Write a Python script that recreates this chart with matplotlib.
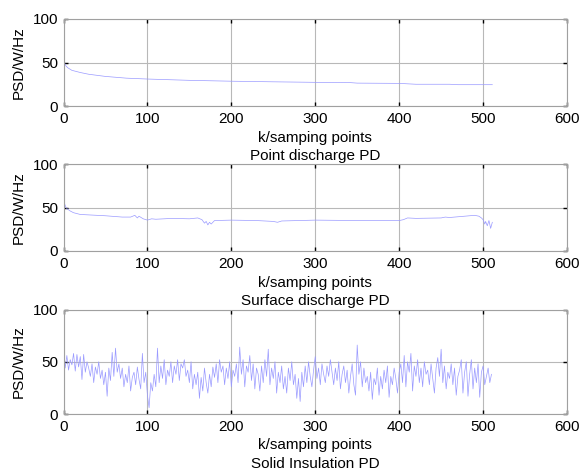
import matplotlib
matplotlib.use("Agg")
import matplotlib.pyplot as plt

plt.rcParams['font.family'] = ['Liberation Sans', 'DejaVu Sans']
plt.rcParams['font.size'] = 11

# Point discharge PD (smooth decay)
x_point = [0, 1, 3, 5, 10, 20, 30, 50, 75, 100, 150, 200, 250, 300, 340, 350,
           400, 410, 420, 460, 470, 511]
y_point = [70, 50, 46, 44, 41, 38.5, 36.5, 34, 32, 31, 29.5, 28.5, 27.8, 27.2,
           27, 26.3, 26, 25.5, 25, 25, 24.5, 24.5]

# Surface discharge PD
x_surface = [0, 1, 3, 5, 8, 12, 20, 30, 50, 70, 80, 85, 88, 90, 95, 100, 105,
             110, 130, 150, 160, 165, 168, 170, 172, 174, 176, 180, 200, 230,
             250, 255, 260, 280, 300, 350, 400, 405, 410, 420, 450, 455, 460,
             490, 495, 498, 500, 502, 503, 505, 507, 509, 511]
y_surface = [65, 55, 50, 48, 46, 44, 42, 41.5, 40.5, 39, 39, 41, 38, 40, 37,
             35.5, 37, 36.5, 37.5, 37, 38, 36, 32, 34, 30, 33, 31, 35, 35.5,
             35, 34, 33, 34.5, 35, 35.5, 35, 35, 36, 38, 37.5, 38, 39, 38.5,
             41, 40, 38, 36, 31, 34, 29, 35, 26, 33]

# Solid insulation PD (noisy), every 2nd sample point
x_solid = list(range(0, 512, 2))
y_solid = [
    60, 44, 56, 42, 52, 47, 58, 41, 57, 45, 55, 33, 57, 40, 50, 44,
    36, 48, 30, 45, 38, 50, 34, 42, 28, 40, 17, 44, 32, 59, 36, 63,
    40, 48, 34, 44, 26, 38, 30, 46, 22, 35, 40, 28, 45, 33, 24, 58,
    30, 40, 18, 6, 30, 22, 38, 26, 63, 30, 46, 34, 52, 28, 42, 36,
    50, 30, 46, 38, 52, 32, 48, 44, 52, 36, 42, 30, 50, 24, 38, 28,
    40, 15, 35, 22, 44, 30, 20, 38, 26, 45, 35, 48, 30, 52, 40, 46,
    28, 44, 34, 50, 26, 42, 36, 48, 30, 64, 38, 52, 26, 46, 40, 56,
    32, 48, 24, 44, 38, 22, 46, 30, 52, 36, 62, 28, 44, 34, 50, 20,
    40, 30, 46, 24, 36, 20, 44, 32, 50, 28, 38, 15, 34, 12, 40, 26,
    46, 30, 50, 36, 26, 42, 55, 34, 44, 28, 48, 38, 30, 46, 36, 52,
    40, 28, 44, 32, 50, 24, 38, 46, 30, 42, 20, 36, 48, 28, 18, 66,
    38, 50, 26, 44, 30, 36, 22, 40, 14, 34, 28, 44, 18, 36, 24, 42,
    30, 46, 16, 36, 28, 44, 34, 20, 40, 48, 30, 56, 26, 50, 40, 58,
    22, 46, 36, 52, 30, 44, 26, 50, 38, 42, 28, 48, 34, 20, 44, 54,
    36, 62, 30, 46, 24, 40, 34, 48, 28, 44, 18, 36, 42, 52, 20, 40,
    50, 17, 38, 52, 24, 44, 30, 48, 16, 40, 46, 28, 36, 44, 30, 38,
]

titles = ['Point discharge PD', 'Surface discharge PD', 'Solid Insulation PD']
series = [(x_point, y_point), (x_surface, y_surface), (x_solid, y_solid)]

W, H = 581, 470
# axes boxes in pixels: (top, bottom)
boxes = [(19, 106), (164, 251), (309.5, 414)]
left_px, right_px = 63.5, 567

fig = plt.figure(figsize=(W / 100, H / 100), dpi=100)

for (top, bot), (xs, ys), title in zip(boxes, series, titles):
    ax = fig.add_axes([left_px / W, 1 - bot / H, (right_px - left_px) / W, (bot - top) / H])
    ax.plot(xs, ys, color='#9a9aff', lw=0.5)
    ax.set_xlim(0, 600)
    ax.set_ylim(0, 100)
    ax.set_xticks(range(0, 601, 100))
    ax.set_yticks([0, 50, 100])
    ax.grid(True, color='#b8b8b8', lw=0.8)
    ax.set_axisbelow(True)
    for sp in ax.spines.values():
        sp.set_color('#a0a0a0')
        sp.set_linewidth(0.8)
    ax.tick_params(direction='in', length=3, width=1, color='black',
                   top=True, right=True, pad=4, labelsize=11)
    ax.set_ylabel('PSD/W/Hz', fontsize=11)
    ax.yaxis.set_label_coords(-0.075, 0.5)
    cx = (left_px + right_px) / 2 / W
    fig.text(cx, 1 - (bot + 31.5) / H, 'k/samping points', ha='center', va='center', fontsize=11)
    fig.text(cx, 1 - (bot + 50) / H, title, ha='center', va='center', fontsize=11)

fig.savefig('out.png', dpi=100)
